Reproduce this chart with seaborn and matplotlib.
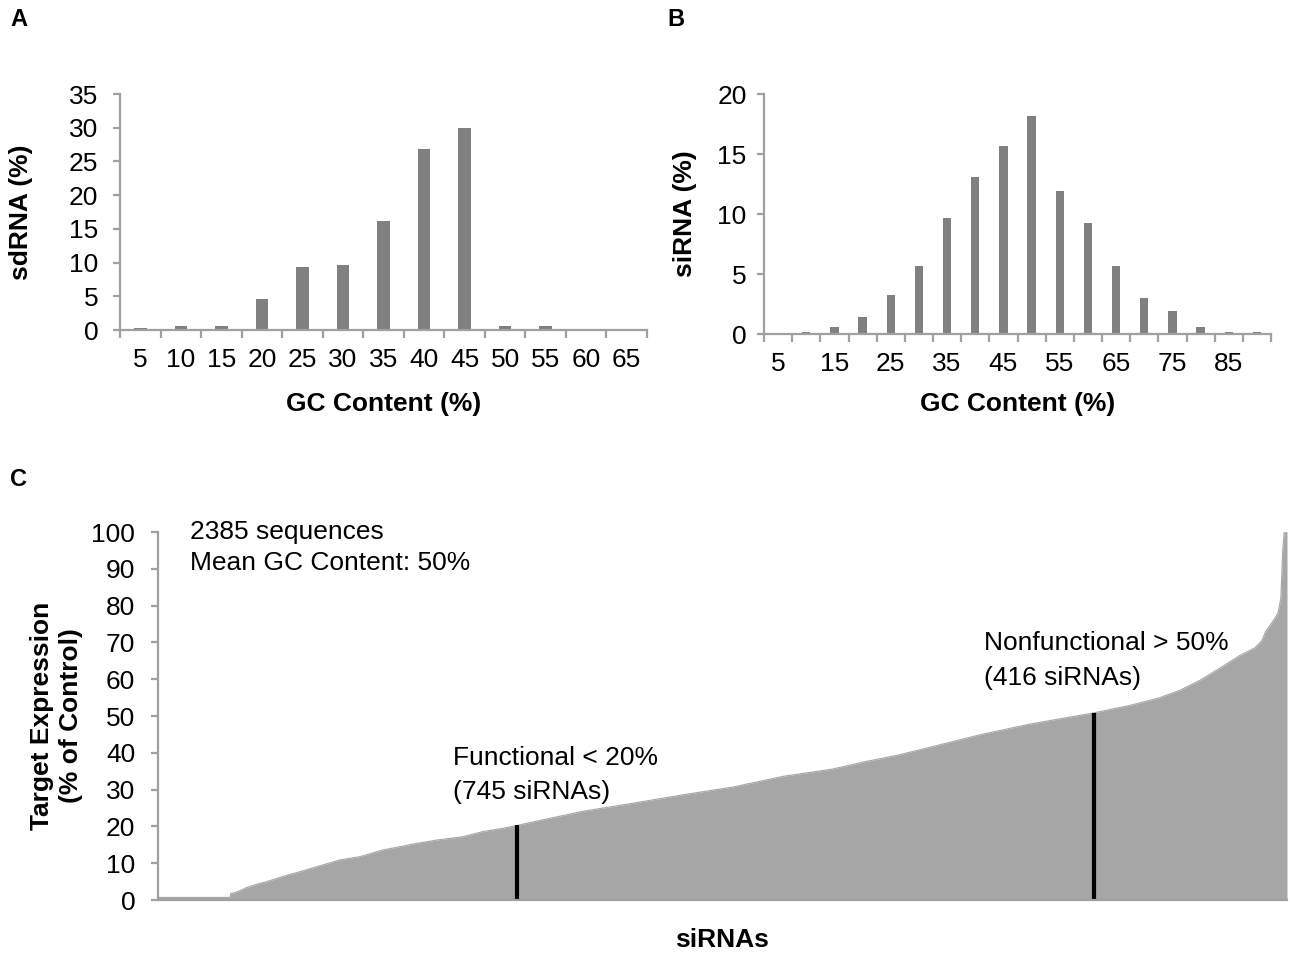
import matplotlib
matplotlib.use("Agg")
import matplotlib.pyplot as plt
import pandas as pd
import seaborn as sns

# ---------------- data ----------------
# Panel A: sdRNA GC content distribution
gc_a = [5, 10, 15, 20, 25, 30, 35, 40, 45, 50, 55, 60, 65]
sdrna_pct = [0.35, 0.65, 0.65, 4.6, 9.4, 9.7, 16.1, 26.9, 30.0, 0.65, 0.65, 0.0, 0.0]

# Panel B: siRNA GC content distribution
gc_b = [5, 10, 15, 20, 25, 30, 35, 40, 45, 50, 55, 60, 65, 70, 75, 80, 85, 90]
sirna_pct = [0.0, 0.15, 0.55, 1.45, 3.25, 5.65, 9.7, 13.05, 15.7, 18.15,
             11.9, 9.25, 5.65, 3.0, 1.9, 0.55, 0.15, 0.15]
gc_b_labels = ["5", "", "15", "", "25", "", "35", "", "45", "", "55", "",
               "65", "", "75", "", "85", ""]

# Panel C: sorted target expression of siRNAs (rank -> % of control)
n_sequences = 2385
rank_pts = [0, 153, 155, 164, 189, 210, 231, 265, 301, 343, 385, 428, 476,
            548, 590, 645, 687, 730, 761, 814, 898, 1004, 1110, 1215, 1321,
            1426, 1498, 1561, 1631, 1737, 1842, 1975, 2054, 2117, 2159, 2201,
            2243, 2286, 2317, 2332, 2340, 2354, 2366, 2372, 2376, 2379, 2385]
expr_pts = [0.7, 0.7, 1.8, 2.0, 3.4, 4.3, 5.0, 6.4, 7.7, 9.3, 10.9, 11.8, 13.6,
            15.4, 16.3, 17.2, 18.6, 19.5, 20.3, 21.8, 24.1, 26.3, 28.6, 30.7, 33.6,
            35.6, 37.7, 39.3, 41.5, 44.9, 47.8, 50.8, 52.9, 55.0, 57.0, 59.7,
            63.0, 66.5, 68.5, 70.5, 73.0, 75.5, 78.0, 82.0, 95.0, 100.0, 100.0]
cutoff_rank = [760, 1978]
cutoff_expr = [20.3, 50.8]

# ---------------- style ----------------
sns.set_theme(style="white")
plt.rcParams["font.family"] = ["Liberation Sans", "DejaVu Sans"]
plt.rcParams["text.color"] = "black"
plt.rcParams["axes.labelcolor"] = "black"
FS = 19
AXC = "#a0a0a0"
BAR = "#808080"
FILL = "#a6a6a6"

fig = plt.figure(figsize=(12.9, 9.57), dpi=100)

W, H = 1290.0, 957.0
def rect(l, t, r, b):
    return [l / W, 1 - b / H, (r - l) / W, (b - t) / H]

axA = fig.add_axes(rect(120, 94, 647, 330))
axB = fig.add_axes(rect(764, 94, 1271, 334))
axC = fig.add_axes(rect(157.5, 532, 1287, 900))


def style_axes(ax):
    for s in ["top", "right"]:
        ax.spines[s].set_visible(False)
    for s in ["left", "bottom"]:
        ax.spines[s].set_color(AXC)
        ax.spines[s].set_linewidth(1.6)
    ax.grid(False)


def style_bar_axis(ax, n, labels, ypad):
    ax.set_xlim(-0.5, n - 0.5)
    ax.set_xticks(range(n))
    ax.set_xticklabels(labels)
    ax.set_xticks([i - 0.5 for i in range(n + 1)], minor=True)
    ax.tick_params(axis="x", which="major", length=0, pad=13, labelsize=FS, colors="black")
    ax.tick_params(axis="x", which="minor", length=6, width=1.6, color=AXC, bottom=True)
    ax.tick_params(axis="y", which="major", length=5, width=1.6, color=AXC, left=True,
                   pad=ypad, labelsize=FS, labelcolor="black")


# ---- Panel A ----
dfA = pd.DataFrame({"gc": [str(v) for v in gc_a], "pct": sdrna_pct})
sns.barplot(data=dfA, x="gc", y="pct", order=dfA["gc"], color=BAR, saturation=1,
            width=0.31, ax=axA, linewidth=0)
style_axes(axA)
style_bar_axis(axA, len(gc_a), [str(v) for v in gc_a], 10.5)
axA.set_ylim(0, 35)
axA.set_yticks(range(0, 36, 5))
axA.set_xlabel("GC Content (%)", fontsize=FS, fontweight="bold")
axA.set_ylabel("sdRNA (%)", fontsize=FS, fontweight="bold")
axA.xaxis.set_label_coords(0.5, -0.263)
axA.yaxis.set_label_coords(-0.165, 0.5)

# ---- Panel B ----
dfB = pd.DataFrame({"gc": [str(v) for v in gc_b], "pct": sirna_pct})
sns.barplot(data=dfB, x="gc", y="pct", order=dfB["gc"], color=BAR, saturation=1,
            width=0.29, ax=axB, linewidth=0)
style_axes(axB)
style_bar_axis(axB, len(gc_b), gc_b_labels, 7.5)
axB.set_ylim(0, 20)
axB.set_yticks(range(0, 21, 5))
axB.set_xlabel("GC Content (%)", fontsize=FS, fontweight="bold")
axB.set_ylabel("siRNA (%)", fontsize=FS, fontweight="bold")
axB.xaxis.set_label_coords(0.5, -0.242)
axB.yaxis.set_label_coords(-0.132, 0.5)

# ---- Panel C ----
sns.lineplot(x=rank_pts, y=expr_pts, ax=axC, color=FILL, linewidth=0.8)
axC.fill_between(rank_pts, expr_pts, 0, color=FILL, linewidth=0)
axC.vlines(cutoff_rank, 0, cutoff_expr, color="black", linewidth=3)
style_axes(axC)
axC.set_xlim(0, n_sequences)
axC.set_ylim(0, 100)
axC.set_yticks(range(0, 101, 10))
axC.set_xticks([])
axC.tick_params(axis="y", which="major", length=5, width=1.6, color=AXC, left=True,
                pad=11, labelsize=FS, labelcolor="black")
axC.set_xlabel("siRNAs", fontsize=FS, fontweight="bold")
axC.set_ylabel("Target Expression\n(% of Control)", fontsize=FS, fontweight="bold",
               linespacing=1.28)
axC.xaxis.set_label_coords(0.5, -0.076)
axC.yaxis.set_label_coords(-0.066, 0.5)

axC.text(69, 100, "2385 sequences", fontsize=FS, va="center", ha="left")
axC.text(69, 91.5, "Mean GC Content: 50%", fontsize=FS, va="center", ha="left")
axC.text(624, 38.5, "Functional < 20%", fontsize=FS, va="center", ha="left")
axC.text(624, 29.3, "(745 siRNAs)", fontsize=FS, va="center", ha="left")
axC.text(1746, 69.8, "Nonfunctional > 50%", fontsize=FS, va="center", ha="left")
axC.text(1746, 60.3, "(416 siRNAs)", fontsize=FS, va="center", ha="left")

# panel letters
for x, y, s in [(10, 19, "A"), (667, 19, "B"), (10, 480, "C")]:
    fig.text(x / W, 1 - y / H, s, fontsize=17, fontweight="bold", va="center", ha="left")

fig.savefig("out.png", dpi=100, facecolor="white")
